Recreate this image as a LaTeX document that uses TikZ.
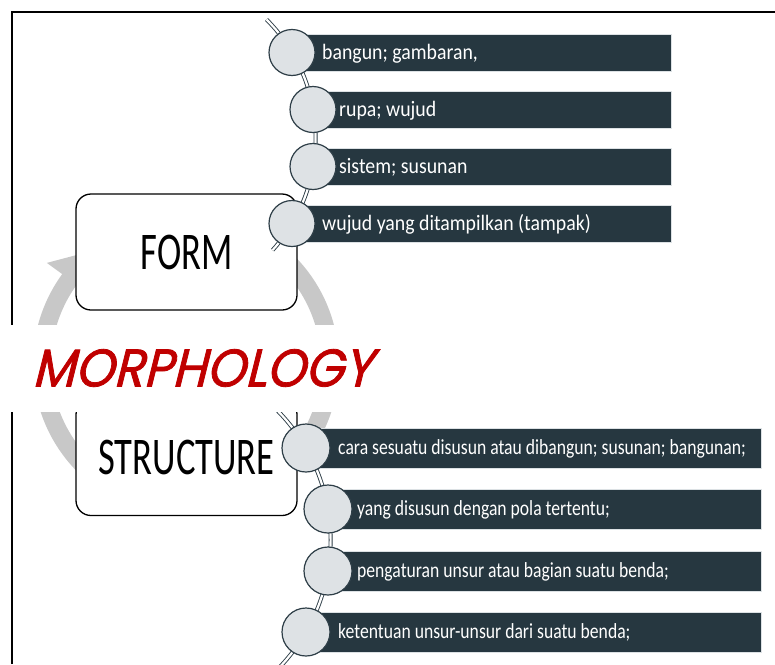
\documentclass[tikz,border=0pt]{standalone}
\usepackage{fontspec}
\setmainfont{Carlito}
\newfontfamily\topfont[FakeStretch=0.9]{Carlito}
\newfontfamily\botfont[FakeStretch=0.82]{Carlito}
\newfontfamily\bigfont[FakeStretch=0.69]{Carlito}
\newfontfamily\morphfont[FakeSlant=0.25,FakeBold=1.5,FakeStretch=0.93]{Poppins}
\definecolor{boxdark}{HTML}{263740}
\definecolor{circfill}{HTML}{DEE2E5}
\definecolor{circline}{HTML}{2E3E47}
\definecolor{ringgray}{HTML}{C8C8C8}
\definecolor{morphred}{HTML}{C00000}
\definecolor{boxedge}{HTML}{DCE1E4}
\begin{document}
\begin{tikzpicture}[x=1pt,y=-1pt,
  mainbox/.style={draw=black, line width=1.3pt, rounded corners=15pt, fill=white,
    minimum width=221pt, minimum height=116pt, inner sep=0pt,
    font=\bigfont\fontsize{53}{60}\selectfont},
  topbox/.style={rectangle, fill=boxdark, draw=boxedge, line width=0.8pt, anchor=west,
    minimum height=37pt, inner sep=0pt},
  botbox/.style={rectangle, fill=boxdark, draw=boxedge, line width=0.8pt, anchor=west,
    minimum height=40pt, inner sep=0pt},
  topcirc/.style={circle, fill=circfill, draw=circline, line width=1.2pt, minimum size=46pt, inner sep=0pt},
  botcirc/.style={circle, fill=circfill, draw=circline, line width=1.2pt, minimum size=48pt, inner sep=0pt},
  toptext/.style={anchor=base west, text=white, inner sep=0pt, font=\topfont\fontsize{22}{26}\selectfont},
  bottext/.style={anchor=base west, text=white, inner sep=0pt, font=\botfont\fontsize{21.5}{26}\selectfont},
  spine/.style={draw=circline, line width=0.9pt, double=white, double distance=2.2pt},
  morph/.style={text=morphred, inner sep=0pt, font=\morphfont\fontsize{53}{60}\selectfont}
]
\clip (0,0) rectangle (775,664);
\fill[white] (0,0) rectangle (775,664);

% circular gray arrows
\coordinate (rc) at (186,364);
\fill[ringgray] ([shift={(rc)}]100:135) arc[start angle=100,end angle=216,radius=135]
  -- ([shift={(rc)}]216:116) -- ([shift={(rc)}]233:144) -- ([shift={(rc)}]216:172)
  -- ([shift={(rc)}]216:153) arc[start angle=216,end angle=100,radius=153] -- cycle;
\fill[ringgray] ([shift={(rc)}]310:135) arc[start angle=310,end angle=393,radius=135]
  -- ([shift={(rc)}]393:116) -- ([shift={(rc)}]410:144) -- ([shift={(rc)}]393:172)
  -- ([shift={(rc)}]393:153) arc[start angle=393,end angle=310,radius=153] -- cycle;

% main boxes
\node[mainbox] (form) at (186.5,252) {FORM};
\node[mainbox] (structure) at (186.5,457.5) {STRUCTURE};

% top list
\draw[spine] ([shift={(148,138)}]-45:167.6) arc[start angle=-45,end angle=42,radius=167.6];
\node[topbox, minimum width=379pt] (tb1) at (292,52.5) {};
\node[topbox, minimum width=358pt] (tb2) at (313,109.5) {};
\node[topbox, minimum width=358pt] (tb3) at (313,166.5) {};
\node[topbox, minimum width=379pt] (tb4) at (292,223.5) {};
\node[topcirc] (tc1) at (292,52.5) {};
\node[topcirc] (tc2) at (313,109.5) {};
\node[topcirc] (tc3) at (313,166.5) {};
\node[topcirc] (tc4) at (292,223.5) {};
\node[toptext] (tt1) at (322,59) {bangun; gambaran,};
\node[toptext] (tt2) at (339,116) {rupa; wujud};
\node[toptext] (tt3) at (339,173) {sistem; susunan};
\node[toptext] (tt4) at (322,230) {wujud yang ditampilkan (tampak)};

% bottom list
\draw[spine] ([shift={(146.5,540)}]-48:184.1) arc[start angle=-48,end angle=45,radius=184.1];
\node[botbox, minimum width=455pt] (bb1) at (306,448) {};
\node[botbox, minimum width=433pt] (bb2) at (328,509) {};
\node[botbox, minimum width=433pt] (bb3) at (328,571) {};
\node[botbox, minimum width=455pt] (bb4) at (306,632) {};
\node[botcirc] (bc1) at (306,448) {};
\node[botcirc] (bc2) at (328,509) {};
\node[botcirc] (bc3) at (328,571) {};
\node[botcirc] (bc4) at (306,632) {};
\node[bottext] (bt1) at (338,454.5) {cara sesuatu disusun atau dibangun; susunan; bangunan;};
\node[bottext] (bt2) at (357,515.5) {yang disusun dengan pola tertentu;};
\node[bottext] (bt3) at (357,577.5) {pengaturan unsur atau bagian suatu benda;};
\node[bottext] (bt4) at (338,638.5) {ketentuan unsur-unsur dari suatu benda;};

% frame
\draw[line width=2pt] (12,664) -- (12,12) -- (775,12);

% white band and title
\fill[white] (0,325) rectangle (775,412);
\node[morph] (title) at (202,368) {MORPHOLOGY};
\end{tikzpicture}
\end{document}
